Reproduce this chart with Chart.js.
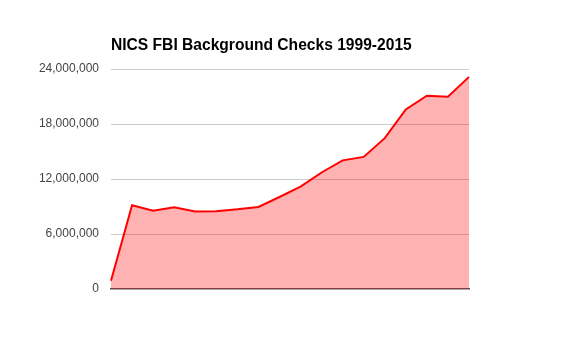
<!DOCTYPE html>
<html>
<head>
<meta charset="utf-8">
<script src="https://cdn.jsdelivr.net/npm/chart.js@4/dist/chart.umd.min.js"></script>
<style>
    html, body { margin: 0; padding: 0; background: #fff; }
    #wrap { width: 580px; height: 359px; }
</style>
</head>
<body>
<div id="wrap"><canvas id="nicsChart" width="580" height="359"></canvas></div>
<script>
// 数据
const years = ['1998', '1999', '2000', '2001', '2002', '2003', '2004', '2005', '2006',
               '2007', '2008', '2009', '2010', '2011', '2012', '2013', '2014', '2015'];
const checks = [892840, 9138123, 8543037, 8910191, 8454322, 8481588, 8687671, 8952945, 10036933,
                11177223, 12709023, 14033824, 14409616, 16454951, 19592303, 21093273, 20968547, 23141970];
const yTicks = [0, 6000000, 12000000, 18000000, 24000000];
const chartTitle = 'NICS FBI Background Checks 1999-2015';

// 标题插件（与绘图区左对齐）
const titlePlugin = {
    id: 'leftTitle',
    afterDraw: function(chart) {
        const ctx = chart.ctx;
        ctx.save();
        ctx.font = 'bold 15.6px "Liberation Sans", Arial, sans-serif';
        ctx.fillStyle = '#000';
        ctx.textBaseline = 'alphabetic';
        ctx.fillText(chartTitle, chart.chartArea.left, 50);
        ctx.restore();
    }
};

const ctx = document.getElementById('nicsChart');
new Chart(ctx, {
    type: 'line',
    data: {
        labels: years,
        datasets: [{
            data: checks,
            borderColor: '#ff0000',
            backgroundColor: 'rgba(255, 0, 0, 0.3)',
            borderWidth: 2,
            pointRadius: 0,
            tension: 0,
            fill: 'origin'
        }]
    },
    options: {
        responsive: false,
        animation: false,
        layout: { padding: { left: 0, right: 111, top: 69, bottom: 70 } },
        plugins: {
            legend: { display: false },
            title: { display: false },
            tooltip: { enabled: false }
        },
        scales: {
            x: {
                display: true,
                offset: false,
                z: 1,
                grid: { display: false, drawTicks: false },
                border: { display: true, color: '#555', width: 1.5 },
                ticks: { display: false }
            },
            y: {
                min: 0,
                max: 24000000,
                afterFit: function(scale) { scale.width = 111; },
                afterBuildTicks: function(scale) {
                    scale.ticks = yTicks.map(v => ({ value: v }));
                },
                grid: {
                    drawTicks: false,
                    color: ctx => ctx.tick && ctx.tick.value === 0 ? 'rgba(0,0,0,0)' : '#cccccc'
                },
                border: { display: false },
                ticks: {
                    padding: 12,
                    color: '#444',
                    font: { family: '"Liberation Sans", Arial, sans-serif', size: 12 },
                    callback: v => v.toLocaleString('en-US')
                }
            }
        }
    },
    plugins: [titlePlugin]
});
</script>
</body>
</html>
